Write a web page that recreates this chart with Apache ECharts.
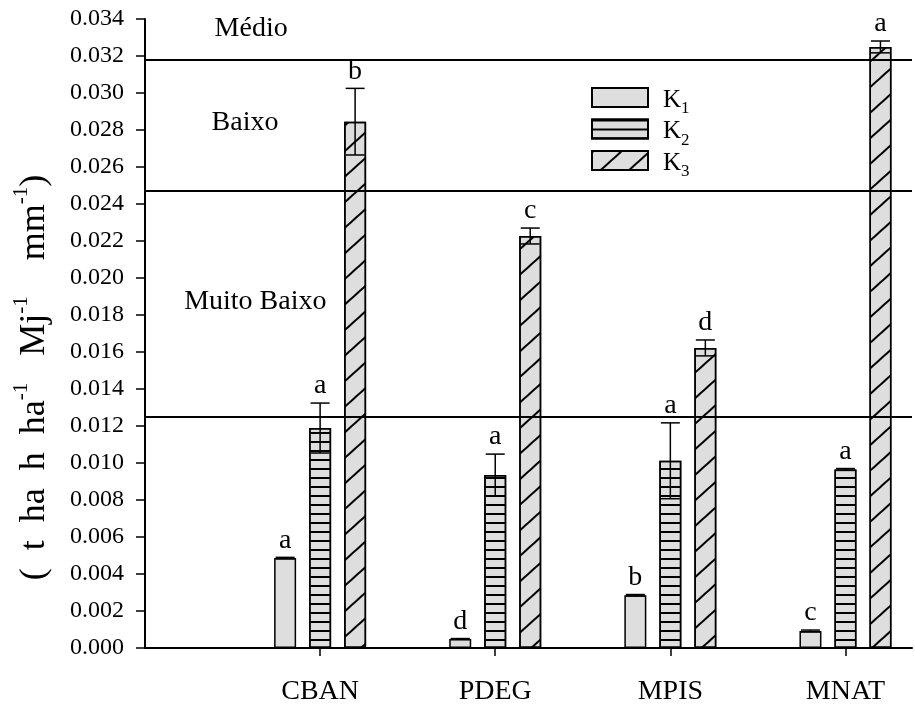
<!DOCTYPE html>
<html>
<head>
<meta charset="utf-8">
<script src="https://cdn.jsdelivr.net/npm/echarts@6/dist/echarts.min.js"></script>
<style>
  html, body { margin: 0; padding: 0; background: #fff; }
  #chart { width: 915px; height: 704px; }
</style>
</head>
<body>
<div id="chart"></div>
<script>
// dados
const categories = ['CBAN', 'PDEG', 'MPIS', 'MNAT']
const seriesNames = ['K1', 'K2', 'K3']
const k1Values = [0.00486, 0.00049, 0.00285, 0.00092]
const k2Values = [0.01189, 0.00935, 0.01012, 0.00965]
const k3Values = [0.02845, 0.02227, 0.01622, 0.03249]
const k1Errors = [0.00004, 0.00002, 0.00004, 0.00005]
const k2Errors = [0.00135, 0.00113, 0.00205, 0.00005]
const k3Errors = [0.00180, 0.00043, 0.00043, 0.00032]
const k1Letters = ['a', 'd', 'b', 'c']
const k2Letters = ['a', 'a', 'a', 'a']
const k3Letters = ['b', 'c', 'd', 'a']
const limitValues = [0.0125, 0.0247, 0.0318]
const zoneLabels = ['Muito Baixo', 'Baixo', 'Médio']

const FONT = '"Liberation Serif", "Times New Roman", serif'
const BAR_WIDTH = 22
const BAR_GAP = 13
const CAP = 19
const FILL = '#dedede'

const decals = [
  null,
  { symbol: 'rect', symbolSize: 1, dashArrayX: [1, 0], dashArrayY: [2, 7], rotation: 0, color: '#000' },
  { symbol: 'rect', symbolSize: 1, dashArrayX: [1, 0], dashArrayY: [2, 17], rotation: -Math.PI * 42 / 180, color: '#000' }
]

const chart = echarts.init(document.getElementById('chart'))

const barSeries = (k, values) => ({
  type: 'bar',
  name: seriesNames[k],
  data: values.map((v, i) => [i + 1, v]),
  barWidth: BAR_WIDTH,
  barGap: (BAR_GAP / BAR_WIDTH * 100) + '%',
  z: 2,
  itemStyle: {
    color: FILL,
    borderColor: '#000',
    borderWidth: 1.5,
    decal: decals[k] || undefined
  },
  emphasis: { disabled: true },
  silent: true
})

// barras de erro + letras
const errorSeries = (k, values, errors, letters) => ({
  type: 'custom',
  name: seriesNames[k] + '_err',
  data: values.map((v, i) => [i + 1, v, errors[i]]),
  z: 10,
  silent: true,
  renderItem: (params, api) => {
    const x = api.value(0)
    const v = api.value(1)
    const e = api.value(2)
    const off = (k - 1) * (BAR_WIDTH + BAR_GAP)
    const top = api.coord([x, v + e])
    const bot = api.coord([x, v - e])
    const cx = top[0] + off
    const lineStyle = { stroke: '#000', lineWidth: 1.5 }
    return {
      type: 'group',
      children: [
        { type: 'line', shape: { x1: cx, y1: top[1], x2: cx, y2: bot[1] }, style: lineStyle },
        { type: 'line', shape: { x1: cx - CAP / 2, y1: top[1], x2: cx + CAP / 2, y2: top[1] }, style: lineStyle },
        { type: 'line', shape: { x1: cx - CAP / 2, y1: bot[1], x2: cx + CAP / 2, y2: bot[1] }, style: lineStyle },
        {
          type: 'text',
          style: {
            text: letters[params.dataIndex],
            x: cx,
            y: top[1] - 3,
            align: 'center',
            verticalAlign: 'bottom',
            fontFamily: FONT,
            fontSize: 28,
            fill: '#000'
          }
        }
      ]
    }
  }
})

const option = {
  animation: false,
  backgroundColor: '#fff',
  grid: { left: 145, right: 3, top: 19, bottom: 56, outerBoundsMode: 'none', containLabel: false },
  legend: {
    data: seriesNames,
    orient: 'vertical',
    left: 586,
    top: 82,
    itemWidth: 56,
    itemHeight: 19,
    itemGap: 1,
    icon: 'rect',
    selectedMode: false,
    formatter: name => `{k|K}{s|${name.slice(1)}}`,
    textStyle: {
      fontFamily: FONT,
      fontSize: 24,
      rich: {
        k: { fontFamily: FONT, fontSize: 25, color: '#000', lineHeight: 30, verticalAlign: 'bottom', padding: [0, 0, 0, 10] },
        s: { fontFamily: FONT, fontSize: 17, color: '#000', lineHeight: 30, verticalAlign: 'bottom', padding: [0, 0, -5, 0] }
      }
    }
  },
  xAxis: {
    type: 'value',
    min: 0,
    max: 4.38,
    splitLine: { show: false },
    axisLine: { show: true, onZero: false, lineStyle: { color: '#000', width: 2 } },
    axisTick: { show: true, length: 8, customValues: [1, 2, 3, 4], lineStyle: { color: '#000', width: 1.5 } },
    axisLabel: {
      customValues: [1, 2, 3, 4],
      formatter: v => categories[Math.round(v) - 1] || '',
      fontFamily: FONT,
      fontSize: 28,
      color: '#000',
      margin: 30
    }
  },
  yAxis: {
    type: 'value',
    min: 0,
    max: 0.034,
    interval: 0.002,
    splitLine: { show: false },
    axisLine: { show: true, lineStyle: { color: '#000', width: 2 } },
    axisTick: { show: true, length: 9, lineStyle: { color: '#000', width: 1.5 } },
    axisLabel: {
      formatter: v => v.toFixed(3),
      fontFamily: FONT,
      fontSize: 24,
      color: '#000',
      margin: 21
    },
    name: '{m|(  t  ha  h  ha}{s|-1}{m|   Mj}{s|-1}{m|    mm}{s|-1}{m|)}',
    nameLocation: 'middle',
    nameGap: 92,
    nameTextStyle: {
      padding: [0, 88, 0, 0],
      rich: {
        m: { fontFamily: FONT, fontSize: 36, color: '#000', lineHeight: 42, verticalAlign: 'bottom' },
        s: { fontFamily: FONT, fontSize: 21, color: '#000', lineHeight: 42, verticalAlign: 'top' }
      }
    }
  },
  series: [
    barSeries(0, k1Values),
    barSeries(1, k2Values),
    barSeries(2, k3Values),
    errorSeries(0, k1Values, k1Errors, k1Letters),
    errorSeries(1, k2Values, k2Errors, k2Letters),
    errorSeries(2, k3Values, k3Errors, k3Letters),
    {
      type: 'scatter',
      name: 'zonas',
      symbolSize: 0,
      z: 5,
      silent: true,
      itemStyle: { opacity: 1 },
      data: [[0.63, 0.0187], [0.571, 0.0284], [0.606, 0.03346]],
      label: {
        show: true,
        position: 'inside',
        formatter: p => zoneLabels[p.dataIndex],
        fontFamily: FONT,
        fontSize: 28,
        color: '#000'
      },
      markLine: {
        silent: true,
        precision: 5,
        symbol: ['none', 'none'],
        label: { show: false },
        lineStyle: { color: '#000', width: 2, type: 'solid' },
        data: limitValues.map(v => ({ yAxis: v }))
      }
    }
  ]
}

chart.setOption(option)
</script>
</body>
</html>
